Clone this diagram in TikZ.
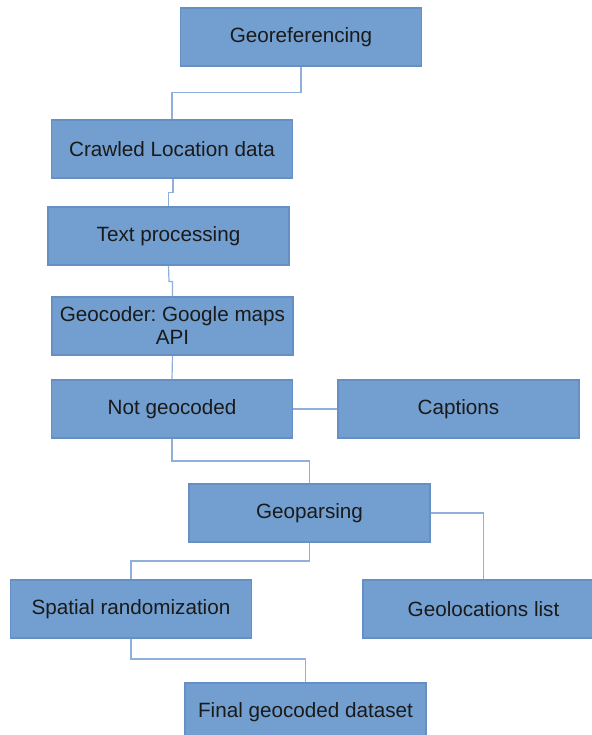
\documentclass[tikz,border=0pt]{standalone}
\usepackage{fontspec}
\setmainfont{Liberation Sans}
\frenchspacing
\definecolor{boxfill}{HTML}{729FCF}
\definecolor{boxline}{HTML}{6690C4}
\definecolor{linkcol}{HTML}{8FB0DC}
\definecolor{txt}{HTML}{1A1A1A}
\begin{document}
\begin{tikzpicture}[x=0.75pt,y=-0.75pt,
  flowbox/.style={rectangle,draw=boxline,line width=0.8pt,fill=boxfill,
    minimum width=180.75pt,minimum height=43.5pt,inner sep=0pt,
    text=txt,align=center,font=\frenchspacing\fontsize{15.5}{17.25}\selectfont},
  link/.style={draw=linkcol,line width=0.9pt}]
\useasboundingbox (0,0) rectangle (592,735);
\clip (0,0) rectangle (592,735);
\fill[white] (0,0) rectangle (592,735);
\node[flowbox] (geo) at (301,37) {Georeferencing};
\node[flowbox] (crawl) at (172,149) {Crawled Location data};
\node[flowbox] (text) at (168.5,236) {Text processing};
\node[flowbox] (gcod) at (172.5,326) {Geocoder: Google maps\\API};
\node[flowbox] (notg) at (172,409) {Not geocoded};
\node[flowbox] (capt) at (458.5,409) {Captions};
\node[flowbox] (gpars) at (309.5,513) {Geoparsing};
\node[flowbox] (spat) at (131,609) {Spatial randomization};
\node[flowbox] (gloc) at (483.5,609) {Geolocations list};
\node[flowbox] (final) at (305.5,712) {Final geocoded dataset};
\coordinate (c1) at (301,92.5);
\draw[link] (geo.south) -- (c1) -| (crawl.north);
\coordinate (c2) at (173,192.5);
\draw[link] (crawl.south -| c2) -- (c2) -| (text.north);
\coordinate (c3) at (169,281.5);
\draw[link] (text.south) -- (c3) -| (gcod.north);
\draw[link] (gcod.south) -- (notg.north);
\draw[link] (notg.east) -- (capt.west);
\coordinate (c4) at (172,461);
\draw[link] (notg.south) -- (c4) -| (gpars.north);
\coordinate (c5) at (309.5,561);
\draw[link] (gpars.south) -- (c5) -| (spat.north);
\draw[link] (gpars.east) -| (gloc.north);
\coordinate (c6) at (131,659);
\draw[link] (spat.south) -- (c6) -| (final.north);
\end{tikzpicture}
\end{document}
